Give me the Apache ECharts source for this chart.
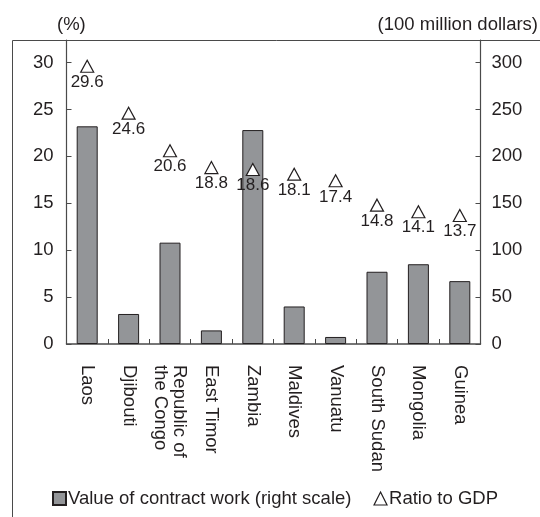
<!DOCTYPE html>
<html>
<head>
<meta charset="utf-8">
<script src="https://cdn.jsdelivr.net/npm/echarts@6/dist/echarts.min.js"></script>
<style>
  html, body { margin: 0; padding: 0; background: #fff; }
  #chart { width: 540px; height: 517px; }
</style>
</head>
<body>
<div id="chart"></div>
<script>
// Countries, value of contract work (100 million dollars) and its ratio to GDP (%)
const countries = ['Laos', 'Djibouti', 'Republic of\nthe Congo', 'East Timor', 'Zambia',
                   'Maldives', 'Vanuatu', 'South Sudan', 'Mongolia', 'Guinea'];
const contractValue = [232, 32, 108, 14.5, 228, 40, 7.5, 77, 85, 67];
const gdpRatio = [29.6, 24.6, 20.6, 18.8, 18.6, 18.1, 17.4, 14.8, 14.1, 13.7];

const leftTicks = { min: 0, max: 32.4, interval: 5 };
const rightTicks = { min: 0, max: 324, interval: 50 };

const FONT = '"Liberation Sans", Arial, Helvetica, sans-serif';
const INK = '#231f20';
const AXIS = '#4a4a4a';
const FS = 18.5;

const chart = echarts.init(document.getElementById('chart'), null, { renderer: 'canvas' });

chart.setOption({
  animation: false,
  backgroundColor: '#fff',
  textStyle: { fontFamily: FONT, color: INK },
  grid: { left: 66.5, right: 59.5, top: 40, bottom: 173, containLabel: false },
  graphic: [
    {
      type: 'rect', z: 0, silent: true,
      shape: { x: 12.5, y: 40.5, width: 620, height: 600 },
      style: { fill: 'none', stroke: AXIS, lineWidth: 1 }
    },
    {
      type: 'text', left: 57, top: 15,
      style: { text: '(%)', font: FS + 'px ' + FONT, fill: INK }
    },
    {
      type: 'text', right: 2, top: 15,
      style: { text: '(100 million dollars)', font: FS + 'px ' + FONT, fill: INK }
    }
  ],
  legend: {
    left: 47, top: 484,
    itemWidth: 13, itemHeight: 13, itemGap: 22,
    textStyle: { fontFamily: FONT, fontSize: FS, color: INK, padding: [0, 0, 0, -3] },
    data: [
      { name: 'Value of contract work (right scale)', icon: 'rect' },
      { name: 'Ratio to GDP', icon: 'triangle',
        itemStyle: { color: '#fff', borderColor: INK, borderWidth: 1.2, opacity: 1 } }
    ]
  },
  xAxis: {
    type: 'category',
    data: countries,
    boundaryGap: true,
    axisLine: { show: true, lineStyle: { color: AXIS, width: 1.5 } },
    axisTick: { show: true, inside: true, length: 5, alignWithLabel: false, lineStyle: { color: AXIS } },
    axisLabel: {
      rotate: -90, margin: 21, interval: 0,
      fontFamily: FONT, fontSize: FS, color: INK, lineHeight: 19
    }
  },
  yAxis: [
    {
      type: 'value', position: 'left',
      min: leftTicks.min, max: leftTicks.max, interval: leftTicks.interval,
      splitLine: { show: false },
      axisLine: { show: true, lineStyle: { color: AXIS, width: 1.2 } },
      axisTick: { show: true, inside: true, length: 5, lineStyle: { color: AXIS } },
      axisLabel: { showMaxLabel: false, margin: 13, fontFamily: FONT, fontSize: FS, color: INK }
    },
    {
      type: 'value', position: 'right',
      min: rightTicks.min, max: rightTicks.max, interval: rightTicks.interval,
      splitLine: { show: false },
      axisLine: { show: true, lineStyle: { color: AXIS, width: 1.2 } },
      axisTick: { show: true, inside: true, length: 5, lineStyle: { color: AXIS } },
      axisLabel: { showMaxLabel: false, margin: 11, fontFamily: FONT, fontSize: FS, color: INK }
    }
  ],
  series: [
    {
      name: 'Value of contract work (right scale)',
      type: 'bar',
      yAxisIndex: 1,
      data: contractValue,
      barWidth: 21,
      itemStyle: { color: '#939598', borderColor: INK, borderWidth: 1 },
      z: 2
    },
    {
      name: 'Ratio to GDP',
      type: 'scatter',
      yAxisIndex: 0,
      data: gdpRatio,
      symbol: 'triangle',
      symbolSize: [13, 12],
      itemStyle: { color: '#fff', borderColor: INK, borderWidth: 1.2, opacity: 1 },
      label: {
        show: true, position: 'bottom', distance: 1,
        fontFamily: FONT, fontSize: 17, color: INK,
        formatter: p => p.value.toFixed(1)
      },
      z: 3
    }
  ]
});
</script>
</body>
</html>
